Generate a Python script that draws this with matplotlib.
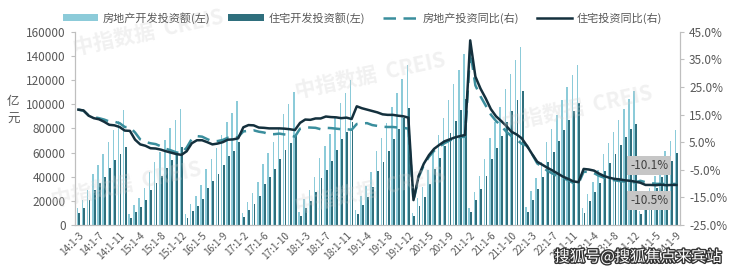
import matplotlib
matplotlib.use("Agg")
import matplotlib.pyplot as plt
import matplotlib.patheffects as pe
from matplotlib.lines import Line2D
from matplotlib.patches import Patch

plt.rcParams['font.family'] = ['Noto Sans CJK SC', 'DejaVu Sans']

# period labels: year -> months covered (cumulative 1-m)
years = [14, 15, 16, 17, 18, 19, 20, 21, 22, 23, 24]
first_month = {14: 3, 24: 2}
last_month = {24: 9}

# real estate development investment, cumulative (亿元)
re_inv = {
    14: [14210, 20839, 29343, 42019, 50067, 58389, 68751, 78837, 86013, 95036],
    15: [8786, 16214, 22513, 30864, 43955, 52217, 60396, 70535, 80395, 87280, 95979],
    16: [9052, 17677, 24133, 33038, 46631, 54954, 63617, 74598, 85675, 93022, 102581],
    17: [9854, 19292, 26390, 35952, 50610, 59360, 68622, 80644, 92314, 100013, 109799],
    18: [10828, 21291, 29119, 39629, 55531, 65329, 75406, 88609, 101175, 109634, 120264],
    19: [12090, 23803, 32594, 44014, 61609, 72286, 84589, 98008, 109603, 121265, 132194],
    20: [10115, 21963, 31601, 45920, 62780, 74763, 88454, 103484, 116556, 128492, 141443],
    21: [13986, 27576, 40240, 54318, 72179, 84895, 98010, 112568, 124934, 136275, 147602],
    22: [14499, 27765, 39154, 52134, 68314, 79462, 90809, 103559, 113945, 123863, 132895],
    23: [13669, 25974, 35514, 45701, 58550, 67717, 76900, 87269, 95922, 104045, 110913],
    24: [11842, 22082, 30928, 40632, 52529, 60877, 69284, 78680],
}
# residential development investment, cumulative (亿元)
res_inv = {
    14: [9756, 14336, 20255, 28838, 34396, 40077, 47016, 53900, 58676, 64352],
    15: [5888, 10792, 15076, 20680, 29334, 34836, 40281, 47063, 53583, 58185, 64595],
    16: [5988, 11286, 15933, 21863, 30834, 36274, 42070, 49441, 56749, 61653, 68704],
    17: [6616, 12550, 17615, 23942, 33928, 39753, 46246, 54367, 62369, 67669, 75148],
    18: [7409, 14264, 19994, 27201, 38585, 45441, 52770, 61984, 70960, 76892, 85192],
    19: [8742, 16749, 23358, 31594, 44478, 52197, 61120, 71090, 79738, 88290, 97071],
    20: [7339, 16079, 23129, 33766, 46350, 55210, 65454, 76555, 86218, 95226, 104446],
    21: [10427, 20624, 30098, 40803, 54272, 63969, 73956, 84931, 94442, 103127, 111173],
    22: [10819, 20761, 29483, 39400, 51804, 60390, 69166, 78948, 86838, 94433, 100646],
    23: [10258, 19767, 27072, 34897, 44439, 51425, 58424, 66279, 72902, 79126, 83820],
    24: [8960, 16725, 23461, 30848, 39883, 46230, 52612, 59701],
}
# YoY growth (%)
re_yoy = {
    14: [16.8, 16.4, 14.7, 14.1, 13.7, 13.2, 12.5, 12.4, 11.9, 10.5],
    15: [10.4, 8.5, 6.0, 5.1, 4.6, 4.3, 3.5, 2.6, 2.0, 1.3, 1.0],
    16: [3.0, 6.2, 7.2, 7.0, 6.1, 5.3, 5.4, 5.8, 6.6, 6.5, 6.9],
    17: [8.9, 9.1, 9.3, 8.8, 8.5, 7.9, 7.9, 8.1, 7.8, 7.5, 7.0],
    18: [9.9, 10.4, 10.3, 10.2, 9.7, 10.2, 10.1, 9.9, 9.7, 9.7, 9.5],
    19: [11.6, 11.8, 11.9, 11.2, 10.9, 10.6, 10.5, 10.5, 10.3, 10.2, 9.9],
    20: [-16.3, -7.7, -3.3, -0.3, 1.9, 3.4, 4.6, 5.6, 6.3, 6.8, 7.0],
    21: [38.3, 25.6, 21.6, 18.3, 15.0, 12.7, 10.9, 8.8, 7.2, 6.0, 4.4],
    22: [3.7, 0.7, -2.7, -4.0, -5.4, -6.4, -7.4, -8.0, -8.8, -9.8, -10.0],
    23: [-5.7, -5.8, -6.2, -7.2, -7.9, -8.5, -8.8, -9.1, -9.3, -9.4, -9.6],
    24: [-9.0, -9.5, -9.8, -10.1, -10.1, -10.2, -10.2, -10.1],
}
res_yoy = {
    14: [16.8, 16.5, 14.6, 13.7, 13.3, 12.4, 11.3, 11.1, 10.5, 9.2],
    15: [9.1, 5.9, 4.2, 3.7, 2.8, 2.7, 2.3, 1.7, 1.2, 0.7, 0.4],
    16: [1.7, 4.6, 5.7, 5.7, 5.0, 4.2, 4.5, 5.0, 5.9, 6.0, 6.4],
    17: [10.4, 11.2, 11.1, 10.3, 10.2, 10.0, 10.0, 10.0, 9.9, 9.7, 9.4],
    18: [12.0, 13.2, 13.1, 13.6, 13.6, 14.3, 14.1, 14.0, 13.7, 13.9, 13.4],
    19: [18.0, 17.3, 16.8, 16.3, 15.8, 15.1, 14.9, 14.9, 14.6, 14.4, 13.9],
    20: [-16.0, -7.2, -2.8, 0.3, 2.6, 4.0, 5.3, 6.0, 6.7, 7.2, 7.6],
    21: [41.9, 28.8, 24.4, 20.9, 17.0, 14.4, 12.7, 10.9, 8.8, 7.8, 6.4],
    22: [3.7, 0.7, -2.1, -3.2, -4.3, -5.3, -6.4, -7.5, -8.3, -9.2, -9.5],
    23: [-4.7, -4.9, -5.3, -6.4, -7.3, -7.9, -8.3, -8.5, -8.8, -9.0, -9.3],
    24: [-9.7, -10.5, -10.5, -10.6, -10.4, -10.6, -10.5, -10.5],
}

labels, re_bar, res_bar, re_line, res_line = [], [], [], [], []
for y in years:
    m0 = first_month.get(y, 2)
    m1 = last_month.get(y, 12)
    for m in range(m0, m1 + 1):
        labels.append(f"{y}:1-{m}")
    re_bar += re_inv[y]
    res_bar += res_inv[y]
    re_line += re_yoy[y]
    res_line += res_yoy[y]

x = list(range(len(labels)))

fig = plt.figure(figsize=(7.4, 2.72), dpi=100)
ax = fig.add_axes([0.101, 0.173, 0.818, 0.71])
ax2 = ax.twinx()

light = '#8ccbd9'
dark = '#2f6f7d'
ax.bar([i - 0.2 for i in x], re_bar, width=0.28, color=light, zorder=2)
ax.bar([i + 0.17 for i in x], res_bar, width=0.36, color=dark, zorder=2)

ax2.plot(x, re_line, color='#3a8e9d', lw=1.8, ls=(0, (5, 3)), zorder=3)
ax2.plot(x, res_line, color='#14303d', lw=1.8, zorder=4)

ax.set_ylim(0, 160000)
ax.set_yticks(range(0, 160001, 20000))
ax2.set_ylim(-25, 45)
ax2.set_yticks(range(-25, 46, 10))
ax2.set_yticklabels([f"{v:.1f}%" for v in range(-25, 46, 10)])
ax.set_xlim(-0.7, len(x) - 0.3)

ax.set_xticks(x[::4])
ax.set_xticklabels(labels[::4], rotation=45, ha='right', rotation_mode='anchor',
                   fontsize=7.2, color='#595959')
ax.tick_params(axis='x', length=0, pad=4)
ax.tick_params(axis='y', labelsize=8.5, labelcolor='#595959', length=3, color='#bfbfbf')
ax2.tick_params(axis='y', labelsize=8.5, labelcolor='#595959', length=3, color='#bfbfbf')

for a in (ax, ax2):
    a.spines['top'].set_visible(False)
    for s in ('left', 'right', 'bottom'):
        a.spines[s].set_color('#bfbfbf')
        a.spines[s].set_linewidth(0.8)

fig.text(0.018, 0.625, '亿', fontsize=9, color='#595959', ha='center', va='center')
fig.text(0.018, 0.56, '元', fontsize=9, color='#595959', ha='center', va='center')

# value callouts
box = dict(boxstyle='square,pad=0.25', facecolor='#c6c6c6', edgecolor='none')
ax2.text(110.7, -3.6, '-10.1%', fontsize=8.5, color='#404040', ha='center', va='center', bbox=box, zorder=6)
ax2.text(110.7, -16.3, '-10.5%', fontsize=8.5, color='#404040', ha='center', va='center', bbox=box, zorder=6)

handles = [
    Patch(facecolor=light, edgecolor='none'),
    Patch(facecolor=dark, edgecolor='none'),
    Line2D([], [], color='#3a8e9d', lw=1.8, ls=(0, (5, 3))),
    Line2D([], [], color='#14303d', lw=1.8),
]
names = ['房地产开发投资额(左)', '住宅开发投资额(左)', '房地产投资同比(右)', '住宅投资同比(右)']
fig.legend(handles, names, loc='center', bbox_to_anchor=(0.49, 0.935), ncol=4, frameon=False,
           fontsize=8, labelcolor='#595959', handlelength=3.2, handleheight=0.6,
           columnspacing=1.6, handletextpad=0.4)

# faint watermarks
for (wx, wy) in [(0.2, 0.88), (0.5, 0.72), (0.78, 0.6), (0.17, 0.32), (0.5, 0.3)]:
    fig.text(wx, wy, '中指数据  CREIS', fontsize=15, color='#d0d0d0', alpha=0.3, rotation=12,
             ha='center', va='center', fontweight='bold', zorder=0)

fig.text(0.975, 0.055, '搜狐号@搜狐焦点来宾站', fontsize=11, color='white', ha='right', va='center',
         path_effects=[pe.withStroke(linewidth=2, foreground='#333333')])

fig.savefig('out.png', dpi=100)
